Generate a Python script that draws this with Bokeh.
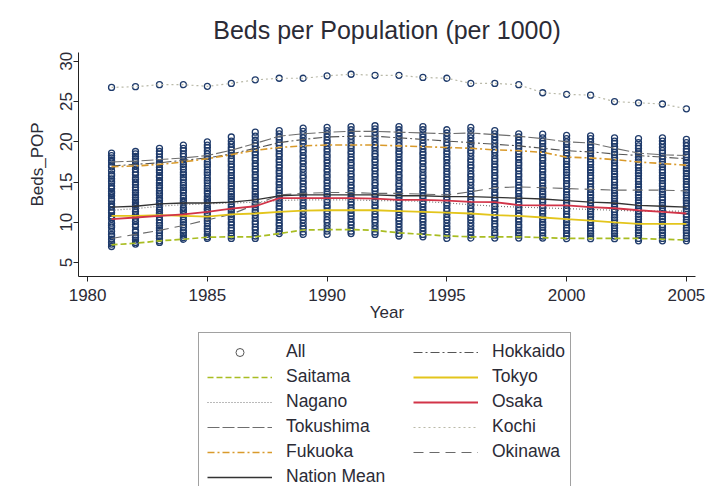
from bokeh.plotting import figure
from bokeh.models import Range1d, FixedTicker, Legend, LegendItem
from bokeh.layouts import column
from bokeh.embed import file_html
from bokeh.resources import INLINE

years = list(range(1981, 2006))

# All prefectures (excluding Kochi), one list per year
all_1981 = [7.0, 7.3, 7.5, 7.9, 8.3, 8.5, 8.9, 9.4, 9.6, 9.9, 10.4, 10.6, 10.8, 11.2, 11.5, 11.9, 12.0, 12.3, 12.7, 12.9, 13.3, 13.6, 13.8, 14.2, 14.5, 14.9, 15.1, 15.4, 15.8, 16.0, 16.4, 16.9, 17.1, 17.5, 17.7, 18.0, 18.3, 18.6]
all_1982 = [7.3, 7.5, 7.8, 8.1, 8.4, 8.8, 9.0, 9.5, 9.7, 10.1, 10.5, 10.8, 11.0, 11.3, 11.7, 12.0, 12.2, 12.5, 12.8, 13.1, 13.4, 13.7, 14.0, 14.3, 14.7, 15.0, 15.3, 15.5, 15.9, 16.2, 16.6, 17.0, 17.2, 17.6, 17.9, 18.2, 18.5, 18.8]
all_1983 = [7.5, 7.7, 8.0, 8.3, 8.7, 9.0, 9.3, 9.6, 9.9, 10.3, 10.7, 11.0, 11.2, 11.5, 11.9, 12.2, 12.4, 12.7, 13.0, 13.4, 13.6, 13.9, 14.3, 14.6, 14.9, 15.2, 15.6, 15.8, 16.2, 16.5, 16.8, 17.2, 17.4, 17.8, 18.1, 18.5, 18.8, 19.2]
all_1984 = [7.9, 8.1, 8.4, 8.7, 9.0, 9.4, 9.7, 10.0, 10.3, 10.7, 11.0, 11.3, 11.5, 11.8, 12.2, 12.5, 12.7, 13.0, 13.3, 13.7, 14.0, 14.3, 14.6, 14.9, 15.3, 15.6, 15.9, 16.2, 16.6, 16.9, 17.2, 17.5, 17.8, 18.2, 18.5, 18.9, 19.2, 19.6]
all_1985 = [8.0, 8.2, 8.5, 8.9, 9.2, 9.5, 9.9, 10.2, 10.5, 10.9, 11.2, 11.5, 11.7, 12.0, 12.4, 12.7, 12.9, 13.2, 13.6, 13.9, 14.2, 14.5, 14.9, 15.2, 15.5, 15.9, 16.2, 16.5, 16.9, 17.2, 17.5, 17.9, 18.2, 18.5, 18.9, 19.3, 19.6, 20.0]
all_1986 = [8.0, 8.3, 8.6, 9.0, 9.3, 9.7, 10.0, 10.4, 10.7, 11.0, 11.3, 11.6, 11.9, 12.2, 12.6, 12.9, 13.2, 13.5, 13.8, 14.2, 14.5, 14.8, 15.2, 15.5, 15.8, 16.2, 16.5, 16.9, 17.2, 17.6, 17.9, 18.3, 18.6, 19.0, 19.3, 19.7, 20.1, 20.6]
all_1987 = [8.0, 8.3, 8.7, 9.1, 9.4, 9.8, 10.1, 10.5, 10.9, 11.2, 11.5, 11.9, 12.2, 12.5, 12.9, 13.2, 13.5, 13.8, 14.2, 14.5, 14.9, 15.2, 15.6, 15.9, 16.3, 16.6, 17.0, 17.3, 17.7, 18.0, 18.4, 18.7, 19.1, 19.5, 19.8, 20.2, 20.7, 21.2]
all_1988 = [8.6, 8.9, 9.2, 9.6, 9.9, 10.3, 10.7, 11.0, 11.3, 11.7, 12.0, 12.4, 12.7, 13.0, 13.3, 13.6, 14.0, 14.3, 14.7, 15.0, 15.4, 15.7, 16.1, 16.4, 16.8, 17.1, 17.5, 17.8, 18.2, 18.5, 18.9, 19.2, 19.6, 19.9, 20.3, 20.6, 21.0, 21.4]
all_1989 = [8.5, 8.8, 9.2, 9.5, 9.9, 10.3, 10.6, 11.0, 11.4, 11.7, 12.1, 12.4, 12.8, 13.1, 13.4, 13.7, 14.1, 14.4, 14.8, 15.1, 15.5, 15.8, 16.2, 16.6, 16.9, 17.3, 17.6, 18.0, 18.3, 18.7, 19.0, 19.4, 19.8, 20.1, 20.5, 20.9, 21.3, 21.7]
all_1990 = [8.5, 8.9, 9.2, 9.6, 10.0, 10.3, 10.7, 11.1, 11.4, 11.8, 12.1, 12.5, 12.8, 13.2, 13.5, 13.8, 14.2, 14.5, 14.9, 15.2, 15.6, 15.9, 16.3, 16.6, 17.0, 17.4, 17.7, 18.1, 18.4, 18.8, 19.1, 19.5, 19.9, 20.2, 20.6, 21.0, 21.4, 21.8]
all_1991 = [8.6, 8.9, 9.3, 9.7, 10.0, 10.4, 10.8, 11.1, 11.5, 11.8, 12.2, 12.5, 12.9, 13.2, 13.6, 13.9, 14.3, 14.6, 15.0, 15.3, 15.7, 16.0, 16.4, 16.7, 17.1, 17.4, 17.8, 18.1, 18.5, 18.8, 19.2, 19.5, 19.9, 20.3, 20.7, 21.1, 21.5, 21.9]
all_1992 = [8.5, 8.8, 9.2, 9.6, 10.0, 10.3, 10.7, 11.0, 11.4, 11.8, 12.1, 12.5, 12.8, 13.2, 13.5, 13.9, 14.2, 14.6, 14.9, 15.3, 15.7, 16.0, 16.4, 16.7, 17.1, 17.5, 17.8, 18.2, 18.5, 18.9, 19.3, 19.6, 20.0, 20.4, 20.8, 21.2, 21.6, 22.0]
all_1993 = [8.3, 8.6, 9.0, 9.4, 9.8, 10.2, 10.5, 10.9, 11.3, 11.6, 12.0, 12.4, 12.7, 13.1, 13.4, 13.8, 14.1, 14.5, 14.8, 15.2, 15.6, 15.9, 16.3, 16.6, 17.0, 17.4, 17.7, 18.1, 18.5, 18.8, 19.2, 19.5, 19.9, 20.3, 20.7, 21.1, 21.5, 21.9]
all_1994 = [8.2, 8.5, 8.9, 9.3, 9.7, 10.1, 10.4, 10.8, 11.2, 11.5, 11.9, 12.3, 12.6, 13.0, 13.3, 13.7, 14.0, 14.4, 14.8, 15.1, 15.5, 15.8, 16.2, 16.6, 16.9, 17.3, 17.6, 18.0, 18.4, 18.7, 19.1, 19.5, 19.8, 20.2, 20.6, 21.0, 21.5, 21.9]
all_1995 = [8.0, 8.4, 8.8, 9.2, 9.5, 9.9, 10.3, 10.6, 11.0, 11.4, 11.7, 12.1, 12.4, 12.8, 13.1, 13.5, 13.8, 14.2, 14.5, 14.9, 15.3, 15.6, 16.0, 16.3, 16.7, 17.0, 17.4, 17.8, 18.1, 18.5, 18.8, 19.2, 19.6, 19.9, 20.3, 20.7, 21.1, 21.5]
all_1996 = [8.05, 8.4, 8.8, 9.1, 9.5, 9.9, 10.3, 10.6, 11.0, 11.4, 11.7, 12.1, 12.5, 12.8, 13.2, 13.5, 13.9, 14.2, 14.6, 15.0, 15.3, 15.7, 16.0, 16.4, 16.8, 17.1, 17.5, 17.8, 18.2, 18.6, 18.9, 19.3, 19.7, 20.1, 20.5, 20.9, 21.4, 21.8]
all_1997 = [8.05, 8.4, 8.7, 9.1, 9.5, 9.8, 10.2, 10.5, 10.9, 11.3, 11.6, 12.0, 12.3, 12.7, 13.0, 13.4, 13.7, 14.1, 14.4, 14.8, 15.1, 15.5, 15.8, 16.2, 16.5, 16.9, 17.2, 17.6, 17.9, 18.3, 18.7, 19.0, 19.4, 19.8, 20.2, 20.6, 21.0, 21.4]
all_1998 = [8.05, 8.4, 8.7, 9.0, 9.4, 9.7, 10.1, 10.4, 10.8, 11.1, 11.5, 11.8, 12.2, 12.5, 12.9, 13.2, 13.6, 13.9, 14.3, 14.6, 15.0, 15.3, 15.7, 16.0, 16.4, 16.7, 17.1, 17.4, 17.8, 18.1, 18.5, 18.8, 19.2, 19.5, 19.9, 20.2, 20.6, 21.0]
all_1999 = [8.05, 8.3, 8.7, 9.0, 9.4, 9.7, 10.0, 10.4, 10.7, 11.1, 11.4, 11.8, 12.1, 12.5, 12.8, 13.2, 13.5, 13.8, 14.2, 14.5, 14.9, 15.2, 15.6, 15.9, 16.3, 16.6, 17.0, 17.3, 17.7, 18.0, 18.4, 18.7, 19.1, 19.4, 19.8, 20.1, 20.5, 20.95]
all_2000 = [7.97, 8.3, 8.6, 9.0, 9.3, 9.7, 10.0, 10.3, 10.7, 11.0, 11.4, 11.7, 12.1, 12.4, 12.8, 13.1, 13.4, 13.8, 14.1, 14.5, 14.8, 15.2, 15.5, 15.9, 16.2, 16.5, 16.9, 17.2, 17.6, 17.9, 18.3, 18.6, 19.0, 19.3, 19.7, 20.0, 20.4, 20.8]
all_2001 = [7.97, 8.3, 8.6, 8.9, 9.3, 9.6, 10.0, 10.3, 10.7, 11.0, 11.3, 11.7, 12.0, 12.4, 12.7, 13.1, 13.4, 13.7, 14.1, 14.4, 14.8, 15.1, 15.5, 15.8, 16.2, 16.5, 16.8, 17.2, 17.5, 17.9, 18.2, 18.6, 18.9, 19.3, 19.6, 20.0, 20.4, 20.75]
all_2002 = [7.97, 8.3, 8.6, 8.9, 9.3, 9.6, 9.9, 10.3, 10.6, 10.9, 11.3, 11.6, 12.0, 12.3, 12.6, 13.0, 13.3, 13.6, 14.0, 14.3, 14.6, 15.0, 15.3, 15.7, 16.0, 16.3, 16.7, 17.0, 17.4, 17.7, 18.0, 18.4, 18.7, 19.1, 19.4, 19.8, 20.1, 20.5]
all_2003 = [7.7, 8.0, 8.4, 8.7, 9.0, 9.4, 9.7, 10.0, 10.4, 10.7, 11.0, 11.4, 11.7, 12.1, 12.4, 12.7, 13.1, 13.4, 13.7, 14.1, 14.4, 14.7, 15.1, 15.4, 15.8, 16.1, 16.4, 16.8, 17.1, 17.5, 17.8, 18.1, 18.5, 18.8, 19.2, 19.5, 19.9, 20.4]
all_2004 = [7.7, 8.0, 8.4, 8.7, 9.0, 9.4, 9.7, 10.1, 10.4, 10.7, 11.1, 11.4, 11.8, 12.1, 12.4, 12.8, 13.1, 13.5, 13.8, 14.1, 14.5, 14.8, 15.2, 15.5, 15.8, 16.2, 16.5, 16.9, 17.2, 17.5, 17.9, 18.2, 18.6, 18.9, 19.3, 19.7, 20.1, 20.5]
all_2005 = [7.7, 8.0, 8.3, 8.7, 9.0, 9.3, 9.7, 10.0, 10.3, 10.7, 11.0, 11.4, 11.7, 12.0, 12.4, 12.7, 13.0, 13.4, 13.7, 14.0, 14.4, 14.7, 15.1, 15.4, 15.7, 16.1, 16.4, 16.7, 17.1, 17.4, 17.7, 18.1, 18.4, 18.8, 19.1, 19.5, 19.9, 20.3]

all_columns = [all_1981, all_1982, all_1983, all_1984, all_1985, all_1986, all_1987,
               all_1988, all_1989, all_1990, all_1991, all_1992, all_1993, all_1994,
               all_1995, all_1996, all_1997, all_1998, all_1999, all_2000, all_2001,
               all_2002, all_2003, all_2004, all_2005]

hokkaido = [17.0, 17.2, 17.4, 17.7, 18.0, 18.5, 19.2, 19.9, 20.3, 20.6, 20.7, 20.7, 20.5, 20.3, 20.1, 19.9, 19.7, 19.5, 19.2, 18.9, 18.75, 18.5, 18.3, 18.1, 17.9]
saitama = [7.2, 7.4, 7.7, 7.9, 8.15, 8.2, 8.2, 8.6, 9.05, 9.1, 9.1, 9.0, 8.7, 8.5, 8.3, 8.2, 8.2, 8.2, 8.1, 8.0, 8.0, 8.0, 8.0, 7.9, 7.8]
tokyo = [10.8, 10.8, 10.9, 10.8, 10.7, 11.0, 11.1, 11.3, 11.45, 11.5, 11.5, 11.5, 11.4, 11.3, 11.2, 11.1, 10.9, 10.8, 10.6, 10.4, 10.2, 10.0, 9.8, 9.8, 9.8]
nagano = [11.5, 11.7, 12.0, 12.2, 12.3, 12.4, 12.5, 12.7, 12.8, 12.8, 12.8, 12.7, 12.7, 12.6, 12.4, 12.2, 12.0, 11.9, 11.8, 11.7, 11.6, 11.5, 11.4, 11.4, 11.4]
osaka = [10.4, 10.6, 10.8, 11.0, 11.3, 11.7, 12.0, 13.0, 13.0, 13.0, 13.0, 12.95, 12.8, 12.8, 12.7, 12.55, 12.5, 12.15, 12.1, 12.1, 11.9, 11.75, 11.5, 11.3, 11.1]
tokushima = [17.5, 17.6, 17.8, 18.0, 18.3, 18.95, 19.8, 20.7, 21.0, 21.2, 21.3, 21.3, 21.2, 21.1, 21.0, 21.1, 20.9, 20.7, 20.4, 20.0, 19.85, 19.2, 18.6, 18.4, 18.3]
kochi = [26.76, 26.85, 27.1, 27.1, 26.9, 27.26, 27.7, 27.9, 27.9, 28.2, 28.4, 28.26, 28.26, 28.0, 27.9, 27.26, 27.26, 27.1, 26.1, 25.9, 25.8, 25.0, 24.85, 24.7, 24.1]
fukuoka = [16.9, 17.0, 17.2, 17.5, 17.9, 18.4, 18.95, 19.3, 19.5, 19.6, 19.6, 19.6, 19.5, 19.4, 19.3, 19.2, 19.0, 18.9, 18.7, 18.1, 18.0, 17.8, 17.5, 17.3, 17.1]
okinawa = [8.0, 8.5, 9.0, 9.6, 10.3, 11.0, 12.2, 13.4, 13.6, 13.7, 13.7, 13.6, 13.6, 13.5, 13.4, 13.8, 14.3, 14.4, 14.3, 14.2, 14.1, 14.0, 14.0, 14.0, 13.9]
nation_mean = [11.9, 12.0, 12.3, 12.4, 12.4, 12.5, 12.8, 13.3, 13.4, 13.4, 13.4, 13.4, 13.3, 13.3, 13.2, 13.2, 13.1, 13.0, 12.9, 12.7, 12.5, 12.4, 12.1, 12.0, 11.9]

x_ticks = [1980, 1985, 1990, 1995, 2000, 2005]
y_ticks = [5, 10, 15, 20, 25, 30]

FONT = "Liberation Sans"
TXT = "#2b2b36"
NAVY = "#1f3b6b"

p = figure(width=706, height=328, x_range=Range1d(1979.62, 2005.38),
           y_range=Range1d(3.27, 31.1), output_backend="svg", toolbar_location=None,
           min_border_left=78, min_border_right=11, min_border_top=52, min_border_bottom=52,
           title="Beds per Population (per 1000)")
p.outline_line_color = None
p.grid.visible = False
p.background_fill_color = "white"
p.border_fill_color = "white"

p.title.align = "center"
p.title.text_font = FONT
p.title.text_font_size = "25px"
p.title.text_font_style = "normal"
p.title.text_color = TXT
p.title.standoff = 17

for ax in (p.xaxis[0], p.yaxis[0]):
    ax.axis_line_color = "#222222"
    ax.major_tick_line_color = "#222222"
    ax.major_tick_out = 5
    ax.major_tick_in = 0
    ax.minor_tick_line_color = None
    ax.major_label_text_font = FONT
    ax.major_label_text_font_size = "17px"
    ax.major_label_text_color = TXT
    ax.axis_label_text_font = FONT
    ax.axis_label_text_font_size = "17px"
    ax.axis_label_text_font_style = "normal"
    ax.axis_label_text_color = TXT

p.xaxis.ticker = FixedTicker(ticks=x_ticks)
p.yaxis.ticker = FixedTicker(ticks=y_ticks)
p.xaxis.axis_label = "Year"
p.yaxis.axis_label = "Beds_POP"
p.yaxis.major_label_orientation = "vertical"
p.xaxis.major_label_standoff = 7
p.xaxis.axis_label_standoff = -1
p.yaxis.major_label_standoff = 1
p.yaxis.axis_label_standoff = 11

# scatter of all prefectures (including Kochi)
sx, sy = [], []
for yr, vals in zip(years, all_columns):
    for v in vals:
        sx.append(yr)
        sy.append(v)
sx += years
sy += kochi
p.scatter(sx, sy, marker="circle", size=6, line_color=NAVY, line_width=1.3, fill_alpha=0)

# series styles: (label, values, color, dash, width)
series = [
    ("Kochi", kochi, "#b9b9a8", "2 3", 1.2),
    ("Hokkaido", hokkaido, "#555555", "9 3 2 3", 1.1),
    ("Tokushima", tokushima, "#6e6e6e", "12 3", 1.1),
    ("Fukuoka", fukuoka, "#d99a2b", "7 3 2 3", 1.6),
    ("Okinawa", okinawa, "#6a6a6a", "10 6", 1.1),
    ("Nagano", nagano, "#777777", "1 2", 1.2),
    ("Nation Mean", nation_mean, "#333333", "solid", 1.3),
    ("Tokyo", tokyo, "#e3c51c", "solid", 1.8),
    ("Osaka", osaka, "#d23448", "solid", 1.8),
    ("Saitama", saitama, "#a9bd22", "6 3", 1.7),
]
for name, vals, color, dash, width in series:
    p.line(years, vals, line_color=color, line_dash=dash, line_width=width)

# legend panel: a second figure beneath the plot; its renderers hold the same
# series but lie outside its (0..1) ranges, so only the legend glyphs show
q = figure(width=706, height=158, x_range=Range1d(0, 1), y_range=Range1d(0, 1),
           output_backend="svg", toolbar_location=None, x_axis_location=None,
           y_axis_location=None, min_border=0)
q.outline_line_color = None
q.grid.visible = False
q.border_fill_color = "white"

proxies = {"All": q.scatter(sx, sy, marker="circle", size=5, line_color="#555555",
                            line_width=1, fill_alpha=0)}
for name, vals, color, dash, width in series:
    proxies[name] = q.line(years, vals, line_color=color, line_dash=dash, line_width=width)

col1 = ["All", "Saitama", "Nagano", "Tokushima", "Fukuoka", "Nation Mean"]
col2 = ["Hokkaido", "Tokyo", "Osaka", "Kochi", "Okinawa"]

common = dict(glyph_width=65, glyph_height=20, label_height=20, label_standoff=14,
              spacing=4, padding=8, label_text_font=FONT, label_text_font_size="17.5px",
              label_text_color=TXT, margin=0)

leg1 = Legend(items=[LegendItem(label=n, renderers=[proxies[n]]) for n in col1],
              location=(120, -10), label_width=276, border_line_color="#444444",
              border_line_width=1, background_fill_color="white", **common)
leg2 = Legend(items=[LegendItem(label=n, renderers=[proxies[n]]) for n in col2],
              location=(335, 24), label_width=70, border_line_color=None,
              background_fill_alpha=0, **common)
q.add_layout(leg1, "center")
q.add_layout(leg2, "center")

layout = column(p, q, spacing=0)
open("out.html", "w").write(file_html(layout, INLINE))
